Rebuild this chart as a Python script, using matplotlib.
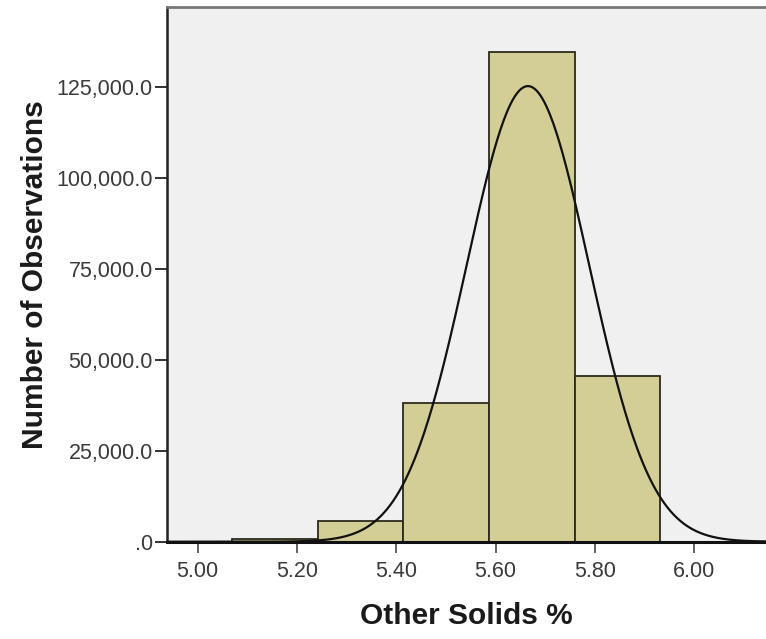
"""SPSS-style histogram of Other Solids % with fitted normal curve."""
import matplotlib

matplotlib.use("Agg")
import matplotlib.pyplot as plt
import numpy as np
from matplotlib.ticker import FuncFormatter

# histogram
bin_edges = [5.069, 5.2415, 5.414, 5.5865, 5.759, 5.9315]
counts = [750, 5600, 38200, 134800, 45500]

# fitted normal curve parameters
curve_mean = 5.665
curve_sd = 0.1235

x_ticks = [5.00, 5.20, 5.40, 5.60, 5.80, 6.00]
y_ticks = [0, 25000, 50000, 75000, 100000, 125000]

plt.rcParams["font.family"] = ["Liberation Sans", "DejaVu Sans"]

W, H = 766, 639
fig = plt.figure(figsize=(W / 100, H / 100), dpi=100)
fig.patch.set_facecolor("white")
left, right, top, bottom = 166.7, 766, 7, 541.7
ax = fig.add_axes([left / W, 1 - bottom / H, (right - left) / W, (bottom - top) / H])
ax.set_facecolor("#f0f0f0")

widths = np.diff(bin_edges)
ax.bar(bin_edges[:-1], counts, width=widths, align="edge",
       color="#d3ce96", edgecolor="#2b2a1c", linewidth=1.3, zorder=2)

n_total = sum(counts)
bw = widths.mean()
xs = np.linspace(4.93, 6.16, 600)
ys = n_total * bw / (curve_sd * np.sqrt(2 * np.pi)) * np.exp(-0.5 * ((xs - curve_mean) / curve_sd) ** 2)
ax.plot(xs, ys, color="#111111", linewidth=1.6, zorder=3)

ax.set_xlim(4.9376, 6.1444)
ax.set_ylim(0, 147050)
ax.set_xticks(x_ticks)
ax.set_yticks(y_ticks)
ax.xaxis.set_major_formatter(FuncFormatter(lambda v, p: f"{v:.2f}"))
ax.yaxis.set_major_formatter(FuncFormatter(lambda v, p: ".0" if v == 0 else f"{v:,.1f}"))

ax.tick_params(axis="y", direction="out", length=9, width=1.3, color="#222222",
               labelsize=15.5, labelcolor="#3a3a3a", pad=1)
ax.tick_params(axis="x", direction="out", length=8, width=1.3, color="#555555",
               labelsize=15.5, labelcolor="#3a3a3a", pad=6)

ax.spines["right"].set_visible(False)
ax.spines["left"].set_color("#222222")
ax.spines["left"].set_linewidth(1.8)
ax.spines["bottom"].set_color("#111111")
ax.spines["bottom"].set_linewidth(2.2)
ax.spines["top"].set_color("#777777")
ax.spines["top"].set_linewidth(2.0)

ax.set_xlabel("Other Solids %", fontsize=21.5, fontweight="bold", color="#1a1a1a", labelpad=14)
ax.set_ylabel("Number of Observations", fontsize=21.5, fontweight="bold", color="#1a1a1a", labelpad=5)

fig.savefig("out.png", dpi=100)
